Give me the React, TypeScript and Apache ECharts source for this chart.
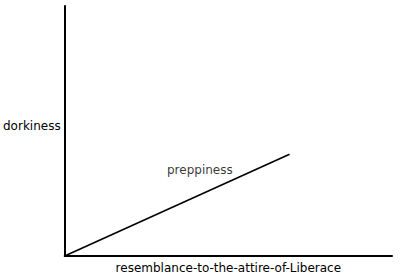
import React, { useEffect, useRef } from "react";
import * as echarts from "echarts";

const xAxisName = "resemblance-to-the-attire-of-Liberace";
const yAxisName = "dorkiness";
const seriesName = "preppiness";
const lineX = [0, 68.7];
const lineY = [0, 40.7];
const labelPos = [41.3, 34.4];

export default function App() {
  const ref = useRef<HTMLDivElement>(null);
  useEffect(() => {
    const chart = echarts.init(ref.current!, null, { renderer: "svg" });
    const font = "DejaVu Sans, Verdana, sans-serif";
    chart.setOption({
      animation: false,
      backgroundColor: "#ffffff",
      grid: { left: 63, top: 6, right: 8, bottom: 20 },
      xAxis: {
        type: "value",
        min: 0,
        max: 100,
        name: xAxisName,
        nameLocation: "middle",
        nameGap: 6,
        nameTextStyle: { color: "#000", fontSize: 12, fontFamily: font },
        axisLine: { show: true, onZero: false, lineStyle: { color: "#000", width: 2 } },
        axisTick: { show: false },
        axisLabel: { show: false },
        splitLine: { show: false },
      },
      yAxis: {
        type: "value",
        min: 0,
        max: 100,
        name: yAxisName,
        nameLocation: "middle",
        nameRotate: 0,
        nameGap: 4,
        nameTextStyle: {
          color: "#000",
          fontSize: 12,
          fontFamily: font,
          align: "right",
          verticalAlign: "bottom",
          lineHeight: 11,
        },
        axisLine: { show: true, onZero: false, lineStyle: { color: "#000", width: 2 } },
        axisTick: { show: false },
        axisLabel: { show: false },
        splitLine: { show: false },
      },
      series: [
        {
          name: seriesName,
          type: "line",
          data: lineX.map((x, i) => [x, lineY[i]]),
          symbol: "none",
          lineStyle: { color: "#000", width: 1.6 },
        },
        {
          type: "scatter",
          data: [labelPos],
          symbolSize: 0,
          label: {
            show: true,
            formatter: seriesName,
            position: "inside",
            color: "#000",
            fontSize: 12,
            fontFamily: font,
          },
        },
      ],
    });
    return () => chart.dispose();
  }, []);
  return <div ref={ref} style={{ position: "fixed", left: 0, top: 0, width: 400, height: 279 }} />;
}
